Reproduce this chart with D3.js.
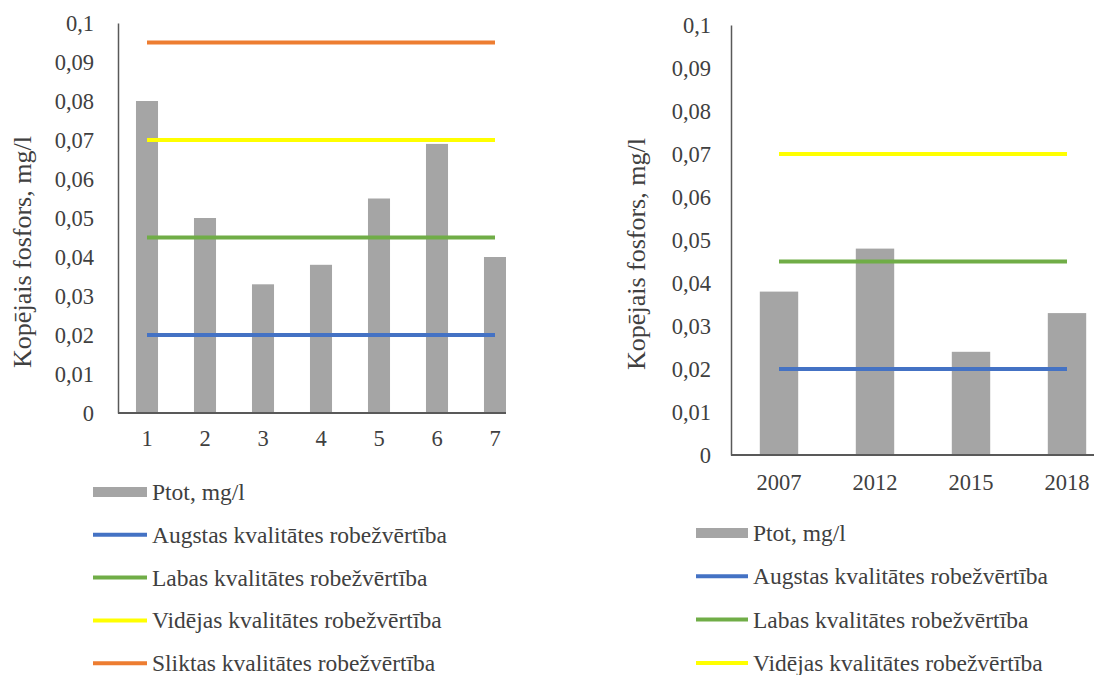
<!DOCTYPE html>
<html>
<head>
<meta charset="utf-8">
<script src="https://cdn.jsdelivr.net/npm/d3@7"></script>
<style>
  html, body { margin: 0; padding: 0; background: #fff; }
  svg { display: block; }
  text { font-family: "Liberation Serif", "Times New Roman", serif; fill: #404040; }
</style>
</head>
<body>
<svg id="chart" width="1094" height="675"></svg>
<script>
// ---- data ----
const leftCategories = ["1", "2", "3", "4", "5", "6", "7"];
const leftPtot = [0.08, 0.05, 0.033, 0.038, 0.055, 0.069, 0.04];
const rightCategories = ["2007", "2012", "2015", "2018"];
const rightPtot = [0.038, 0.048, 0.024, 0.033];
const yTickValues = [0, 0.01, 0.02, 0.03, 0.04, 0.05, 0.06, 0.07, 0.08, 0.09, 0.1];
const yTickLabels = ["0", "0,01", "0,02", "0,03", "0,04", "0,05", "0,06", "0,07", "0,08", "0,09", "0,1"];
const barSeriesName = "Ptot, mg/l";
const thresholdNames = [
  "Augstas kvalitātes robežvērtība",
  "Labas kvalitātes robežvērtība",
  "Vidējas kvalitātes robežvērtība",
  "Sliktas kvalitātes robežvērtība"
];
const thresholdColors = ["#4472c4", "#70ad47", "#ffff00", "#ed7d31"];
const leftThresholds = [0.02, 0.045, 0.07, 0.095];
const rightThresholds = [0.02, 0.045, 0.07];
const yTitle = "Kopējais fosfors, mg/l";

const svg = d3.select("#chart");

function drawChart(cfg) {
  const g = svg.append("g");
  const x = d3.scaleBand().domain(cfg.categories).range([cfg.x0, cfg.x1])
    .paddingInner(cfg.padInner).paddingOuter(cfg.padInner / 2);
  const y = d3.scaleLinear().domain([0, 0.1]).range([cfg.yBottom, cfg.yTop]);

  const clipId = "clip" + cfg.id;
  svg.append("clipPath").attr("id", clipId).append("rect")
    .attr("x", cfg.x0).attr("y", 0).attr("width", cfg.clipRight - cfg.x0).attr("height", cfg.yBottom + 2);

  const plot = g.append("g").attr("clip-path", `url(#${clipId})`);

  // bars
  plot.selectAll("rect.bar").data(cfg.values).join("rect")
    .attr("class", "bar")
    .attr("x", (d, i) => x(cfg.categories[i]))
    .attr("width", x.bandwidth())
    .attr("y", d => y(d))
    .attr("height", d => y(0) - y(d))
    .attr("fill", "#a5a5a5");

  // threshold lines
  const first = cfg.categories[0], last = cfg.categories[cfg.categories.length - 1];
  const line = d3.line().x(d => x(d[0]) + x.bandwidth() / 2).y(d => y(d[1]));
  cfg.thresholds.forEach((t, i) => {
    plot.append("path")
      .attr("d", line([[first, t], [last, t]]))
      .attr("stroke", thresholdColors[i])
      .attr("stroke-width", 4)
      .attr("fill", "none");
  });

  // y axis
  const yAxis = d3.axisLeft(y).tickValues(yTickValues)
    .tickFormat((d, i) => yTickLabels[i]).tickSize(0).tickPadding(cfg.tickPad);
  const ya = g.append("g").attr("transform", `translate(${cfg.x0},0)`).call(yAxis);
  ya.select(".domain").attr("stroke", "#595959").attr("stroke-width", 1.5);
  ya.selectAll("text").attr("font-size", 22.5).attr("fill", "#404040")
    .attr("font-family", "Liberation Serif");

  // x axis
  const xAxis = d3.axisBottom(x).tickSize(0).tickPadding(cfg.xPad);
  const xa = g.append("g").attr("transform", `translate(0,${cfg.yBottom})`).call(xAxis);
  xa.select(".domain").remove();
  xa.append("line").attr("x1", cfg.x0).attr("x2", cfg.clipRight)
    .attr("y1", 0).attr("y2", 0).attr("stroke", "#595959").attr("stroke-width", 2);
  xa.selectAll("text").attr("font-size", 22.5).attr("fill", "#404040")
    .attr("font-family", "Liberation Serif");

  // y title
  g.append("text")
    .attr("transform", `translate(${cfg.titleX},${cfg.titleY}) rotate(-90)`)
    .attr("text-anchor", "middle").attr("dominant-baseline", "central")
    .attr("font-size", 26).text(yTitle);

  // legend
  const items = [{ name: barSeriesName, type: "bar" }]
    .concat(cfg.thresholds.map((t, i) => ({ name: thresholdNames[i], type: "line", color: thresholdColors[i] })));
  items.forEach((it, i) => {
    const yy = cfg.legendY + i * cfg.legendStep;
    if (it.type === "bar") {
      g.append("rect").attr("x", cfg.legendX).attr("y", yy - 5)
        .attr("width", cfg.legendW).attr("height", 10).attr("fill", "#a5a5a5");
    } else {
      g.append("line").attr("x1", cfg.legendX).attr("x2", cfg.legendX + cfg.legendW)
        .attr("y1", yy).attr("y2", yy).attr("stroke", it.color).attr("stroke-width", 4);
    }
    g.append("text").attr("x", cfg.legendX + cfg.legendW + 5).attr("y", yy)
      .attr("dominant-baseline", "central").attr("font-size", 23.5).text(it.name);
  });
}

drawChart({
  id: "L", categories: leftCategories, values: leftPtot, thresholds: leftThresholds,
  x0: 118, x1: 524, clipRight: 506, padInner: 0.62,
  yBottom: 413, yTop: 23, tickPad: 24, xPad: 17,
  titleX: 22, titleY: 252,
  legendX: 93, legendW: 54, legendY: 492, legendStep: 42.8
});

drawChart({
  id: "R", categories: rightCategories, values: rightPtot, thresholds: rightThresholds,
  x0: 731, x1: 1115, clipRight: 1094, padInner: 0.6,
  yBottom: 455, yTop: 25, tickPad: 20, xPad: 19,
  titleX: 636, titleY: 254,
  legendX: 696, legendW: 52, legendY: 533, legendStep: 43.3
});
</script>
</body>
</html>
